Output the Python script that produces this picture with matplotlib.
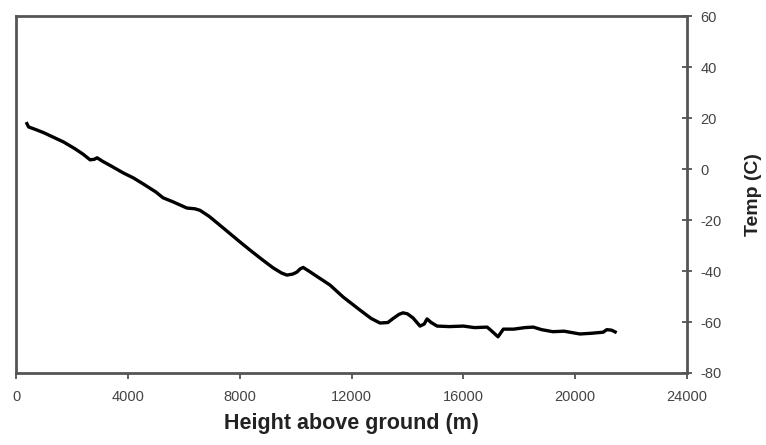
import numpy as np
import matplotlib.pyplot as plt

plt.rcParams['font.family'] = ['Liberation Sans', 'DejaVu Sans']
plt.rcParams['axes.unicode_minus'] = False

# radiosonde profile
height = [390, 450, 700, 1000, 1330, 1700, 2100, 2400, 2650, 2800, 2900, 3100,
          3400, 3830, 4200, 4600, 5000, 5260, 5600, 6110, 6400, 6580, 6900,
          7200, 7540, 8000, 8370, 8800, 9200, 9500, 9690, 9900, 10050, 10160,
          10270, 10500, 10800, 11230, 11700, 12300, 12700, 13020, 13300, 13490,
          13700, 13840, 14000, 14200, 14450, 14600, 14700, 14850, 15060, 15500,
          16000, 16400, 16850, 17000, 17240, 17430, 17800, 18200, 18500, 18800,
          19200, 19600, 20170, 20600, 21000, 21130, 21300, 21430]
temp = [17.8, 16.5, 15.5, 14.2, 12.5, 10.6, 8.0, 5.8, 3.6, 3.8, 4.4, 3.0,
        1.2, -1.5, -3.5, -6.2, -9.0, -11.3, -12.8, -15.3, -15.6, -16.2, -18.5,
        -21.2, -24.3, -28.5, -31.8, -35.5, -38.8, -40.8, -41.6, -41.2, -40.4,
        -39.2, -38.6, -40.2, -42.4, -45.5, -50.2, -55.3, -58.6, -60.4, -60.2,
        -58.6, -57.0, -56.4, -56.8, -58.4, -61.6, -60.8, -58.8, -60.2, -61.6,
        -61.8, -61.6, -62.2, -62.0, -63.4, -65.8, -62.8, -62.8, -62.2, -62.0,
        -63.0, -63.8, -63.6, -64.7, -64.4, -64.0, -63.0, -63.2, -63.9]

x_ticks = [0, 4000, 8000, 12000, 16000, 20000, 24000]
y_ticks = [-80, -60, -40, -20, 0, 20, 40, 60]

fig = plt.figure(figsize=(7.66, 4.45), dpi=100)
ax = fig.add_axes([0.0209, 0.1618, 0.876, 0.8022])

ax.plot(height, temp, color='black', lw=2.4, solid_joinstyle='round')

ax.set_xlim(0, 24000)
ax.set_ylim(-80, 60)
ax.set_xticks(x_ticks)
ax.set_yticks(y_ticks)

ax.yaxis.tick_right()
ax.yaxis.set_label_position('right')
ax.tick_params(axis='x', direction='out', length=4, width=1.2, color='#444444',
               labelsize=10.5, labelcolor='#444444', pad=8)
ax.tick_params(axis='y', direction='inout', length=7, width=1.2, color='#444444',
               labelsize=10.5, labelcolor='#444444', pad=6)

for s in ax.spines.values():
    s.set_color('#555555')
    s.set_linewidth(2.0)

ax.set_xlabel('Height above ground (m)', fontsize=15.5, fontweight='bold',
              color='#222222', labelpad=7)
ax.set_ylabel('Temp (C)', fontsize=14, fontweight='bold', color='#222222',
              labelpad=17)

fig.savefig('out.png', dpi=100)
